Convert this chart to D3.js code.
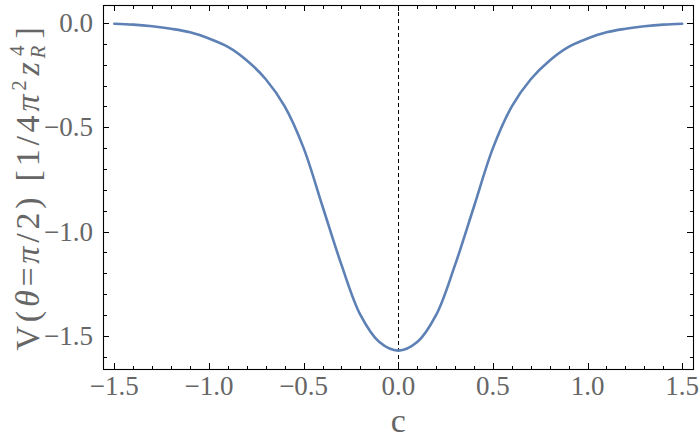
<!DOCTYPE html>
<html>
<head>
<meta charset="utf-8">
<script src="https://cdn.jsdelivr.net/npm/d3@7"></script>
<style>
  html, body { margin: 0; padding: 0; background: #fff; }
  svg { display: block; }
  text { font-family: "Liberation Serif", "DejaVu Serif", serif; fill: #666666; }
</style>
</head>
<body>
<svg id="chart" width="700" height="444"></svg>
<script>
// ---- data ----
const cValues = [-1.5,-1.4,-1.3,-1.2,-1.1,-1.0,-0.9,-0.8,-0.7,-0.6,-0.5,-0.4,-0.3,-0.2,-0.1,0.0,
                  0.1,0.2,0.3,0.4,0.5,0.6,0.7,0.8,0.9,1.0,1.1,1.2,1.3,1.4,1.5];
const vValues = [-0.004,-0.008,-0.016,-0.028,-0.045,-0.075,-0.115,-0.18,-0.27,-0.40,-0.60,-0.88,-1.16,-1.40,-1.53,-1.571,
                  -1.53,-1.40,-1.16,-0.88,-0.60,-0.40,-0.27,-0.18,-0.115,-0.075,-0.045,-0.028,-0.016,-0.008,-0.004];
const xMajorTicks = [-1.5,-1.0,-0.5,0.0,0.5,1.0,1.5];
const xMinorTicks = [-1.4,-1.3,-1.2,-1.1,-0.9,-0.8,-0.7,-0.6,-0.4,-0.3,-0.2,-0.1,0.1,0.2,0.3,0.4,0.6,0.7,0.8,0.9,1.1,1.2,1.3,1.4];
const yMajorTicks = [0.0,-0.5,-1.0,-1.5];
const yMinorTicks = [-0.1,-0.2,-0.3,-0.4,-0.6,-0.7,-0.8,-0.9,-1.1,-1.2,-1.3,-1.4,-1.6];
const xDomain = [-1.56, 1.557];
const yDomain = [-1.659, 0.086];

// ---- layout ----
const L = 103, R = 693, T = 5, B = 369;
const svg = d3.select("#chart");
const x = d3.scaleLinear().domain(xDomain).range([L, R]);
const y = d3.scaleLinear().domain(yDomain).range([B, T]);
const fmt = v => (v < 0 ? "\u2212" : "") + Math.abs(v).toFixed(1);

const data = cValues.map((c, i) => ({c, v: vValues[i]}));

// dashed vertical line at c = 0
svg.append("line")
  .attr("x1", Math.round(x(0)) + 0.5).attr("x2", Math.round(x(0)) + 0.5)
  .attr("y1", T).attr("y2", B)
  .attr("stroke", "#000").attr("stroke-width", 1)
  .attr("stroke-dasharray", "4,3");

// curve
svg.append("path")
  .datum(data)
  .attr("fill", "none")
  .attr("stroke", "#5E81B5")
  .attr("stroke-width", 2.6)
  .attr("stroke-linejoin", "round")
  .attr("stroke-linecap", "round")
  .attr("d", d3.line().x(d => x(d.c)).y(d => y(d.v)).curve(d3.curveCatmullRom.alpha(0.5)));

// frame
svg.append("rect")
  .attr("x", L + 0.5).attr("y", T + 0.5)
  .attr("width", R - L).attr("height", B - T)
  .attr("fill", "none").attr("stroke", "#000").attr("stroke-width", 1.1);

const ticks = svg.append("g").attr("stroke", "#000").attr("stroke-width", 1).attr("shape-rendering", "crispEdges");
const MAJ = 6, MIN = 3.5;
function xt(vals, len) {
  vals.forEach(v => {
    const px = Math.round(x(v)) + 0.5;
    ticks.append("line").attr("x1", px).attr("x2", px).attr("y1", B).attr("y2", B - len);
    ticks.append("line").attr("x1", px).attr("x2", px).attr("y1", T).attr("y2", T + len);
  });
}
function yt(vals, len) {
  vals.forEach(v => {
    const py = Math.round(y(v)) + 0.5;
    ticks.append("line").attr("y1", py).attr("y2", py).attr("x1", L).attr("x2", L + len);
    ticks.append("line").attr("y1", py).attr("y2", py).attr("x1", R).attr("x2", R - len);
  });
}
xt(xMajorTicks, MAJ); xt(xMinorTicks, MIN);
yt(yMajorTicks, MAJ); yt(yMinorTicks, MIN);

// tick labels
svg.append("g").selectAll("text").data(xMajorTicks).join("text")
  .attr("x", d => x(d)).attr("y", 395)
  .attr("text-anchor", "middle")
  .attr("font-size", 27)
  .text(fmt);
svg.append("g").selectAll("text").data(yMajorTicks).join("text")
  .attr("x", 93).attr("y", d => y(d) + 9)
  .attr("text-anchor", "end")
  .attr("font-size", 27)
  .text(fmt);

// x axis label
svg.append("text").attr("x", x(0)).attr("y", 432)
  .attr("text-anchor", "middle").attr("font-size", 34).text("c");

// y axis label
const yl = svg.append("text")
  .attr("transform", `translate(39, ${(T + B) / 2}) rotate(-90)`)
  .attr("text-anchor", "middle").attr("font-size", 34);
yl.append("tspan").text("V(");
yl.append("tspan").attr("font-style", "italic").text("\u03B8");
yl.append("tspan").text("=");
yl.append("tspan").attr("font-style", "italic").text("\u03C0");
yl.append("tspan").text("/2) [1/4");
yl.append("tspan").attr("font-style", "italic").text("\u03C0");
yl.append("tspan").attr("font-size", 21).attr("dy", -13).text("2");
yl.append("tspan").attr("font-style", "italic").attr("dy", 13).attr("dx", 1).text("z");
yl.append("tspan").attr("font-style", "italic").attr("font-size", 21).attr("dy", 6).text("R");
yl.append("tspan").attr("font-size", 21).attr("dy", -21).attr("dx", -14).text("4");
yl.append("tspan").attr("dy", 15).attr("dx", 3).text("]");
// letter spacing so the label spans the same length as in the reference
const natural = yl.node().getComputedTextLength();
const nChars = yl.text().length;
const target = 337;
yl.style("letter-spacing", Math.max(0, (target - natural) / nChars) + "px");
</script>
</body>
</html>
